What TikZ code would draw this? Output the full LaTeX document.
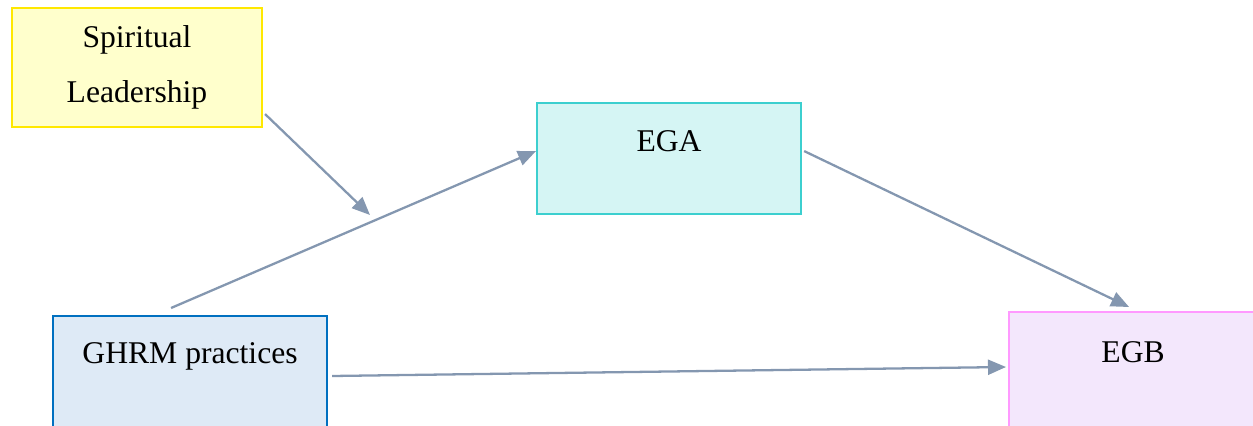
\documentclass[tikz,border=0pt]{standalone}
\usepackage{fontspec}
\setmainfont{Liberation Serif}
\usepackage{tikz}
\usetikzlibrary{arrows.meta,calc,positioning}
\definecolor{linkc}{HTML}{8497B0}
\tikzstyle{yr}=[rectangle,line width=1.2pt,draw={rgb,255:red,255;green,232;blue,0},fill={rgb,255:red,255;green,255;blue,204},inner sep=0pt,align=center]
\tikzstyle{cr}=[rectangle,line width=1.2pt,draw={rgb,255:red,60;green,207;blue,207},fill={rgb,255:red,213;green,245;blue,244},inner sep=0pt]
\tikzstyle{br}=[rectangle,line width=1.2pt,draw={rgb,255:red,0;green,112;blue,192},fill={rgb,255:red,222;green,234;blue,246},inner sep=0pt]
\tikzstyle{pr}=[rectangle,line width=1.2pt,draw={rgb,255:red,255;green,153;blue,255},fill={rgb,255:red,243;green,231;blue,252},inner sep=0pt]
\tikzstyle{link}=[line width=1.3pt,draw=linkc,-{Triangle[length=0.36cm,width=0.3cm]}]

\begin{document}
\begin{tikzpicture}[every node/.style={font=\fontsize{18}{31.7}\selectfont}]
    \useasboundingbox (0,0) rectangle (25.06,-8.52);
    \clip (0,0) rectangle (25.06,-8.52);
    \node (sl) [yr,minimum width=5cm,minimum height=2.38cm] at (2.74,-1.35) {Spiritual\\Leadership};
    \node (ega) [cr,anchor=north west,minimum width=5.28cm,text height=0.96cm,text depth=1.26cm] at (10.72,-2.04) {EGA};
    \node (ghrm) [br,anchor=north west,minimum width=5.48cm,text height=0.95cm,text depth=2cm] at (1.04,-6.3) {GHRM practices};
    \node (egb) [pr,anchor=north west,minimum width=4.96cm,text height=1cm,text depth=2cm] at (20.16,-6.22) {EGB};

    \draw[link] ([xshift=-0.38cm,yshift=0.14cm]ghrm.north) -- ([yshift=0.15cm]ega.west);
    \coordinate (mod) at (7.4,-4.3);
    \draw[link] ([xshift=0.04cm,yshift=0.28cm]sl.south east) -- (mod);
    \draw[link] ([xshift=0.04cm,yshift=0.15cm]ega.east) -- ([xshift=-0.08cm,yshift=0.08cm]egb.north);
    \draw[link] ([xshift=0.08cm,yshift=-1.22cm]ghrm.north east) -- ([xshift=-0.04cm,yshift=-1.12cm]egb.north west);
\end{tikzpicture}
\end{document}
